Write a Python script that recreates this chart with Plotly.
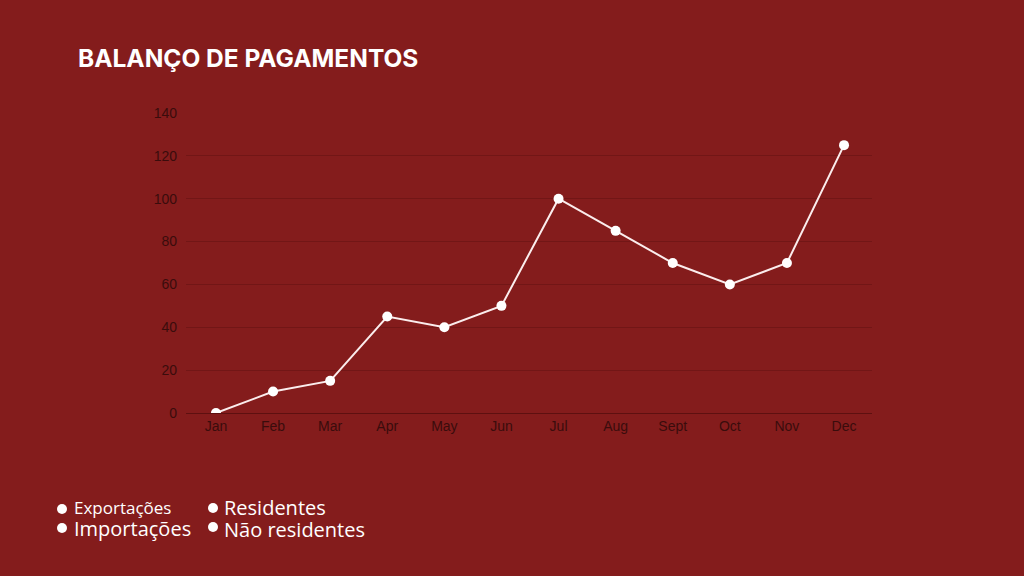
import plotly.graph_objects as go

# Chart data
months = ['Jan', 'Feb', 'Mar', 'Apr', 'May', 'Jun', 'Jul', 'Aug', 'Sept', 'Oct', 'Nov', 'Dec']
values = [0, 10, 15, 45, 40, 50, 100, 85, 70, 60, 70, 125]
y_ticks = [0, 20, 40, 60, 80, 100, 120, 140]
legend_col1 = ['Exportações', 'Importações']
legend_col2 = ['Residentes', 'Não residentes']

BG = '#841C1C'
TICK = '#3A0C0C'
GRID = '#721616'

# plot area in pixels (left, top, right, bottom)
PL, PT, PR, PB = 186, 113, 872, 413


def px_x(px):
    return (px - PL) / (PR - PL)


def px_y(py):
    return (PB - py) / (PB - PT)


fig = go.Figure()

fig.add_trace(go.Scatter(
    x=months,
    y=values,
    mode='lines+markers',
    line=dict(color='#FBEDED', width=2),
    marker=dict(color='white', size=10),
    showlegend=False,
    hovertemplate="%{x}: %{y}<extra></extra>"
))

fig.update_layout(
    width=1024,
    height=576,
    paper_bgcolor=BG,
    plot_bgcolor=BG,
    margin=dict(l=PL, r=1024 - PR, t=PT, b=576 - PB),
    title=dict(
        text="<b>BALANÇO DE PAGAMENTOS</b>",
        font=dict(family='Inter, Liberation Sans, sans-serif', size=24.5, color='white'),
        x=78 / 1024,
        xanchor='left',
        y=1 - 58 / 576,
        yanchor='middle'
    ),
    xaxis=dict(
        showgrid=False,
        showline=True,
        linecolor='#5E1010',
        linewidth=1,
        tickfont=dict(family='Liberation Sans, Arial, sans-serif', size=14, color=TICK),
        ticks='',
        range=[-0.525, 11.49],
        fixedrange=True
    ),
    yaxis=dict(
        range=[0, 140],
        tickvals=y_ticks,
        showgrid=True,
        gridcolor=GRID,
        gridwidth=1,
        zeroline=False,
        tickfont=dict(family='Liberation Sans, Arial, sans-serif', size=14, color=TICK),
        ticks='',
        ticklabelstandoff=8,
        fixedrange=True
    )
)

# Custom legend: two text columns plus white dots drawn as shapes
fig.add_annotation(
    x=px_x(72), y=px_y(494), xref='paper', yref='paper',
    xanchor='left', yanchor='top', align='left', showarrow=False,
    text='%s<br><span style="font-size:20px">%s</span>' % tuple(legend_col1),
    font=dict(family='Open Sans, sans-serif', size=17, color='white')
)
fig.add_annotation(
    x=px_x(222), y=px_y(492), xref='paper', yref='paper',
    xanchor='left', yanchor='top', align='left', showarrow=False,
    text='<span style="font-size:20px">%s</span><br><span style="font-size:20px">%s</span>' % tuple(legend_col2),
    font=dict(family='Open Sans, sans-serif', size=17, color='white')
)
for cx, cy in [(62, 509), (62, 528), (213, 508), (213, 527)]:
    fig.add_shape(
        type='circle', xref='paper', yref='paper',
        x0=px_x(cx - 5), x1=px_x(cx + 5), y0=px_y(cy + 5), y1=px_y(cy - 5),
        fillcolor='white', line=dict(width=0)
    )

fig.write_html(
    "out.html",
    config={'displayModeBar': False},
    post_script="document.body.style.margin='0';"
)
